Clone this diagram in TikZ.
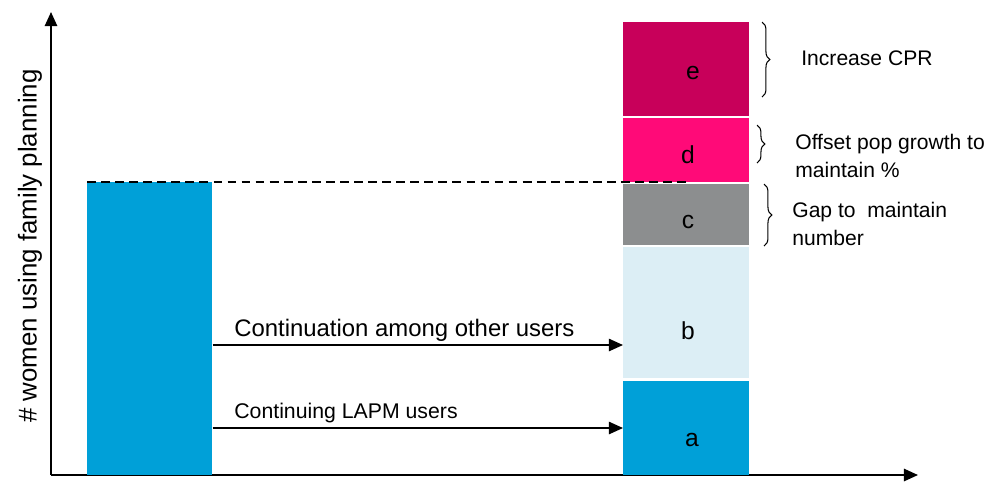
\documentclass[tikz,border=0pt]{standalone}
\usepackage{fontspec}
\setmainfont{Liberation Sans}
\usepackage{tikz}
\usetikzlibrary{positioning}
\usetikzlibrary{decorations.pathreplacing}
\usetikzlibrary{arrows.meta}

\definecolor{fpblue}{HTML}{00A0D8}
\definecolor{fplight}{HTML}{DCEEF5}
\definecolor{fpgrey}{HTML}{8C8E8F}
\definecolor{fppink}{HTML}{FF0A78}
\definecolor{fpwine}{HTML}{C8005A}

\tikzset{
  seg/.style={inner sep=0pt, anchor=north west, minimum width=2.52cm},
  letter/.style={inner sep=0pt, font=\fontsize{14}{16}\selectfont},
  axis/.style={line width=1.1pt, -{Triangle[length=8pt,width=7pt]}},
  flow/.style={line width=0.9pt, -{Triangle[length=8pt,width=7pt]}},
  brc/.style={decorate, decoration={brace, amplitude=4.5pt}, line width=0.6pt},
  note/.style={anchor=west, inner sep=0pt, align=left, font=\fontsize{12}{16}\selectfont}
}

\begin{document}
\begin{tikzpicture}[x=0.02cm,y=-0.02cm]
      \useasboundingbox (0,0) rectangle (994,481);

      % axes
      \coordinate (origin) at (51,475);
      \coordinate (ytop) at (51,12);
      \coordinate (xend) at (918,475);
      \draw[axis] (origin) -- (ytop);
      \draw[axis] (origin) -- (xend);
      \node[rotate=90, font=\fontsize{14.7}{16}\selectfont] (ylabel) at (30,246) {\# women using family planning};

      % left bar
      \node[seg, fill=fpblue, minimum width=2.5cm, minimum height=5.86cm] (base) at (87,182) {};

      % right stack
      \node[seg, fill=fpwine, minimum height=1.88cm] (e) at (623,22) {};
      \node[seg, fill=fppink, minimum height=1.28cm] (d) at (623,118) {};
      \node[seg, fill=fpgrey, minimum height=1.22cm] (c) at (623,184) {};
      \node[seg, fill=fplight, minimum height=2.62cm] (b) at (623,247) {};
      \node[seg, fill=fpblue, minimum height=1.88cm] (a) at (623,381) {};
      \node[letter] (le) at (693,73) {e};
      \node[letter] (ld) at (688,155) {d};
      \node[letter] (lc) at (688,222) {c};
      \node[letter] (lb) at (688,331) {b};
      \node[letter] (la) at (692,440) {a};

      \draw[dashed, line width=0.8pt, dash pattern=on 5pt off 3pt] (base.north west) -- (688,182);

      % flows
      \coordinate (upper) at (0,345);
      \coordinate (lower) at (0,428);
      \draw[flow] (base.east |- upper) -- (b.west |- upper);
      \draw[flow] (base.east |- lower) -- (a.west |- lower);
      \node[anchor=west, inner sep=0pt, font=\fontsize{13.6}{15}\selectfont] (cont) at (234,330) {Continuation among other users};
      \node[anchor=west, inner sep=0pt, font=\fontsize{12.1}{14}\selectfont] (lapm) at (234,413) {Continuing LAPM users};

      % braces
      \draw[brc] (762,22) -- (762,97);
      \draw[brc] (757,125) -- (757,163);
      \draw[brc] (764,184) -- (764,246);
      \node[note] (cpr) at (801,58) {Increase CPR};
      \node[note] (pct) at (795,156) {Offset pop growth to\\maintain \%};
      \node[note] (gap) at (792,224) {Gap to~ maintain\\number};
\end{tikzpicture}
\end{document}
